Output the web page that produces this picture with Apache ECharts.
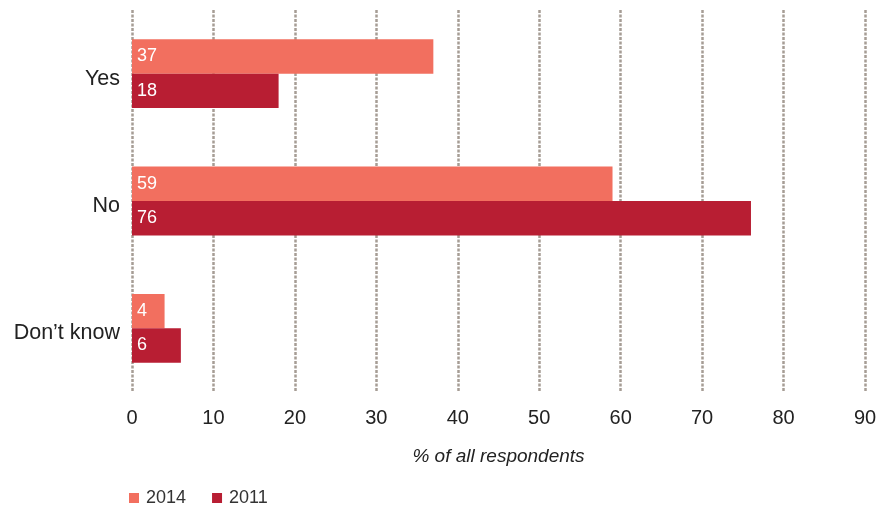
<!DOCTYPE html>
<html>
<head>
<meta charset="utf-8">
<script src="https://cdn.jsdelivr.net/npm/echarts@6/dist/echarts.min.js"></script>
<style>
  html, body { margin: 0; padding: 0; background: #fff; }
  #chart { width: 893px; height: 507px; }
</style>
</head>
<body>
<div id="chart"></div>
<script>
// Survey answers, share of all respondents (%)
const categories = ['Yes', 'No', 'Don\u2019t know'];
const values2014 = [37, 59, 4];
const values2011 = [18, 76, 6];
const xTicks = { min: 0, max: 90, interval: 10 };

const FONT = '"Liberation Sans", Arial, Helvetica, sans-serif';
const chart = echarts.init(document.getElementById('chart'));

function barSeries(name, data, color) {
  return {
    name: name,
    type: 'bar',
    data: data,
    barGap: '0%',
    barCategoryGap: '46%',
    itemStyle: { color: color },
    label: {
      show: true,
      position: 'insideLeft',
      distance: 5,
      color: '#fff',
      fontFamily: FONT,
      fontSize: 18
    },
    emphasis: { disabled: true }
  };
}

chart.setOption({
  animation: false,
  textStyle: { fontFamily: FONT },
  grid: { left: 132, right: 28, top: 10, bottom: 115, containLabel: false },
  legend: {
    left: 129,
    top: 489,
    padding: 0,
    itemWidth: 10,
    itemHeight: 10,
    itemGap: 26,
    icon: 'rect',
    textStyle: { fontFamily: FONT, fontSize: 18, color: '#333', padding: [0, 0, 0, 2] },
    data: ['2014', '2011']
  },
  xAxis: {
    type: 'value',
    min: xTicks.min,
    max: xTicks.max,
    interval: xTicks.interval,
    name: '% of all respondents',
    nameLocation: 'middle',
    nameGap: 55,
    nameTextStyle: { fontFamily: FONT, fontSize: 19, fontStyle: 'italic', color: '#222' },
    axisLine: { show: false },
    axisTick: { show: false },
    axisLabel: { fontFamily: FONT, fontSize: 20, color: '#222', margin: 16 },
    splitLine: { show: true, lineStyle: { color: '#a69d95', type: [3, 1.5], width: 2.5 } }
  },
  yAxis: {
    type: 'category',
    data: categories,
    inverse: true,
    axisLine: { show: false },
    axisTick: { show: false },
    axisLabel: {
      fontFamily: FONT,
      fontSize: 21.5,
      color: '#222',
      margin: 12,
      verticalAlign: 'top',
      lineHeight: 10
    }
  },
  series: [
    barSeries('2014', values2014, '#f26f5f'),
    barSeries('2011', values2011, '#b81e33')
  ]
});
</script>
</body>
</html>
